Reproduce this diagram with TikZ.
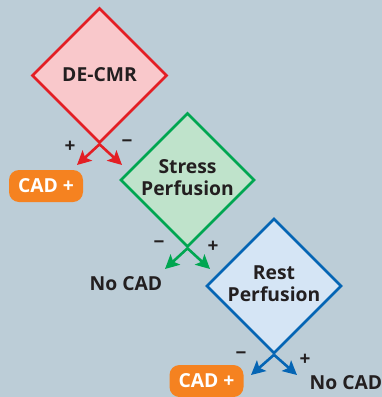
\documentclass[tikz,border=0pt]{standalone}
\usepackage{fontspec}
\setmainfont{Open Sans}
\usetikzlibrary{shapes.geometric,arrows.meta}
\definecolor{bg}{HTML}{BCCDD7}
\definecolor{txt}{HTML}{231F20}
\definecolor{rline}{HTML}{E31E24}
\definecolor{rfill}{HTML}{F9C8CB}
\definecolor{gline}{HTML}{00A651}
\definecolor{gfill}{HTML}{BFE3CB}
\definecolor{bline}{HTML}{0565B4}
\definecolor{bfill}{HTML}{D5E5F5}
\definecolor{cad}{HTML}{F58220}
\newcommand{\twolines}[2]{\raisebox{3pt}{\begin{tabular}{@{}c@{}}#1\\#2\end{tabular}}}
\begin{document}
\begin{tikzpicture}[x=1pt,y=-1pt,
  dec/.style={diamond, draw, line width=2.6pt, inner sep=-8pt, minimum width=#1, minimum height=#1, align=center, text=txt, font=\fontsize{19.3}{22}\selectfont\bfseries},
  cadbox/.style={fill=cad, rounded corners=10pt, minimum width=74pt, minimum height=32pt, inner sep=0pt, text=white, font=\fontsize{19.3}{20}\selectfont\bfseries},
  outtxt/.style={text=txt, font=\fontsize{19.3}{20}\selectfont\bfseries, inner sep=0pt},
  sgn/.style={text=txt, font=\fontsize{19}{20}\selectfont\bfseries, inner sep=0pt},
  arr/.style={line width=2.6pt, -{Stealth[length=14pt, width=14pt, inset=3pt]}}]
\fill[bg] (0,0) rectangle (382,397);
\useasboundingbox (0,0) rectangle (382,397);
% diamonds
\node[dec=135pt, fill=rfill, draw=rline] (d1) at (99.5,75.5) {\raisebox{1pt}{DE-CMR}};
\node[dec=134pt, fill=gfill, draw=gline] (d2) at (187.5,180) {\twolines{Stress}{Perfusion}};
\node[dec=135pt, fill=bfill, draw=bline] (d3) at (274,286) {\twolines{Rest}{Perfusion}};
% arrow tips
\coordinate (t1p) at (77,165);
\coordinate (t1m) at (122,165);
\coordinate (t2m) at (165,269);
\coordinate (t2p) at (210,269);
\coordinate (t3m) at (251,375);
\coordinate (t3p) at (297,375);
% arrows
\draw[arr, draw=rline, fill=rline] (d1.south) -- (t1p);
\draw[arr, draw=rline, fill=rline] (d1.south) -- (t1m);
\draw[arr, draw=gline, fill=gline] (d2.south) -- (t2m);
\draw[arr, draw=gline, fill=gline] (d2.south) -- (t2p);
\draw[arr, draw=bline, fill=bline] (d3.south) -- (t3m);
\draw[arr, draw=bline, fill=bline] (d3.south) -- (t3p);
% signs
\node[sgn] (s1p) at (70,147) {+};
\node[sgn] (s1m) at (127,144) {−};
\node[sgn] (s2m) at (159,245) {−};
\node[sgn] (s2p) at (213,247) {+};
\node[sgn] (s3m) at (241,356) {−};
\node[sgn] (s3p) at (305,360) {+};
% outcomes
\node[cadbox] (c1) at (46,186) {CAD +};
\node[outtxt] (n1) at (126,284) {No CAD};
\node[cadbox] (c2) at (206.5,381) {CAD +};
\node[outtxt] (n2) at (346,383) {No CAD};
\end{tikzpicture}
\end{document}
